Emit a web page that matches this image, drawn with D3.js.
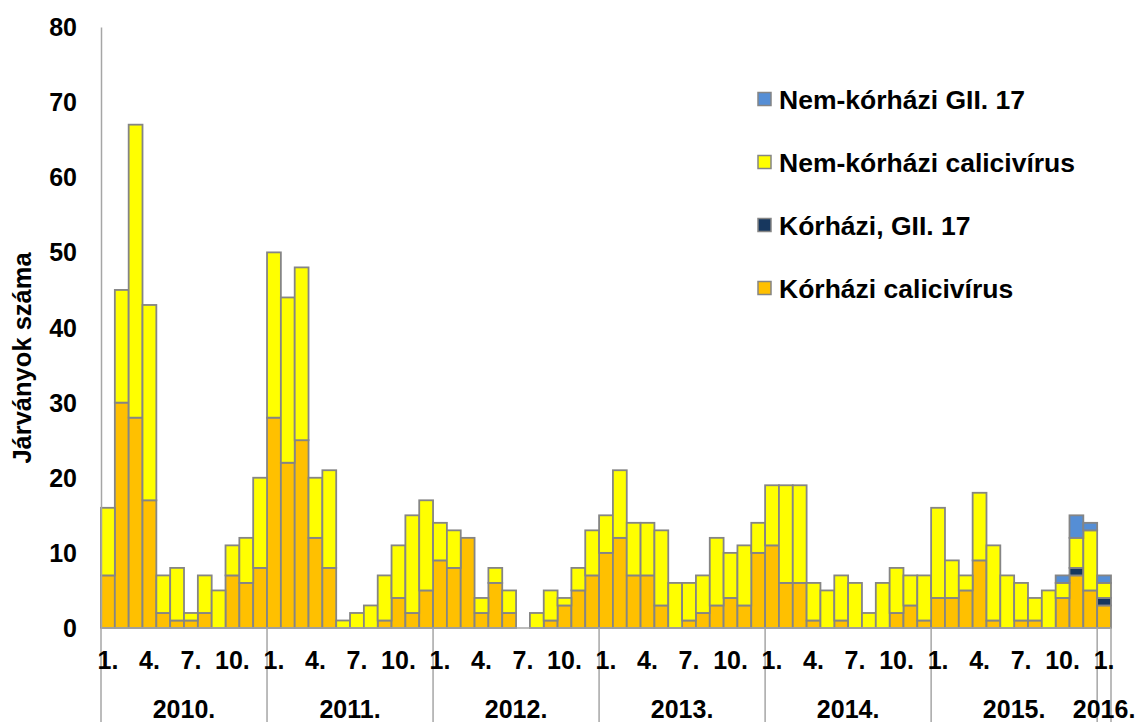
<!DOCTYPE html>
<html>
<head>
<meta charset="utf-8">
<script src="https://cdn.jsdelivr.net/npm/d3@7"></script>
<style>
  html, body { margin: 0; padding: 0; background: #ffffff; }
  svg { display: block; }
  text { font-family: "Liberation Sans", Arial, sans-serif; font-weight: bold; fill: #000; }
</style>
</head>
<body>
<svg id="chart" width="1142" height="722"></svg>
<script>
// ---- data ----
const years = ["2010.", "2011.", "2012.", "2013.", "2014.", "2015.", "2016."];
const monthsPerYear = [12, 12, 12, 12, 12, 12, 1];
const monthTickLabels = ["1.", "4.", "7.", "10."];
const seriesNames = ["Kórházi calicivírus", "Kórházi, GII. 17", "Nem-kórházi calicivírus", "Nem-kórházi GII. 17"];

const korhaziCalici = [
  7,30,28,17,2,1,1,2,0,7,6,8,
  28,22,25,12,8,0,0,0,1,4,2,5,
  9,8,12,2,6,2,0,0,1,3,5,7,
  10,12,7,7,3,0,1,2,3,4,3,10,
  11,6,6,1,0,1,0,0,0,2,3,1,
  4,4,5,9,1,0,1,1,0,4,7,5,
  3
];
const korhaziGII17 = [
  0,0,0,0,0,0,0,0,0,0,0,0,
  0,0,0,0,0,0,0,0,0,0,0,0,
  0,0,0,0,0,0,0,0,0,0,0,0,
  0,0,0,0,0,0,0,0,0,0,0,0,
  0,0,0,0,0,0,0,0,0,0,0,0,
  0,0,0,0,0,0,0,0,0,0,1,0,
  1
];
const nemKorhaziCalici = [
  9,15,39,26,5,7,1,5,5,4,6,12,
  22,22,23,8,13,1,2,3,6,7,13,12,
  5,5,0,2,2,3,0,2,4,1,3,6,
  5,9,7,7,10,6,5,5,9,6,8,4,
  8,13,13,5,5,6,6,2,6,6,4,6,
  12,5,2,9,10,7,5,3,5,2,4,8,
  2
];
const nemKorhaziGII17 = [
  0,0,0,0,0,0,0,0,0,0,0,0,
  0,0,0,0,0,0,0,0,0,0,0,0,
  0,0,0,0,0,0,0,0,0,0,0,0,
  0,0,0,0,0,0,0,0,0,0,0,0,
  0,0,0,0,0,0,0,0,0,0,0,0,
  0,0,0,0,0,0,0,0,0,1,3,1,
  1
];
const yTicks = [0, 10, 20, 30, 40, 50, 60, 70, 80];
const yTitle = "Járványok száma";

// ---- build categories ----
const months = [];
years.forEach((yr, yi) => {
  for (let m = 1; m <= monthsPerYear[yi]; m++) months.push({ key: yr + m, year: yr, month: m });
});
const table = months.map((d, i) => ({
  key: d.key, year: d.year, month: d.month,
  s0: korhaziCalici[i], s1: korhaziGII17[i], s2: nemKorhaziCalici[i], s3: nemKorhaziGII17[i]
}));

const colors = ["#FFC000", "#17375E", "#FFFF00", "#558ED5"];
const strokeCol = "#858585";

const svg = d3.select("#chart");
const plotL = 101, plotR = 1111, plotT = 27, plotB = 628;

const x = d3.scaleBand().domain(table.map(d => d.key)).range([plotL, plotR]).padding(0);
const y = d3.scaleLinear().domain([0, 80]).range([plotB, plotT]);

const stack = d3.stack().keys(["s0", "s1", "s2", "s3"]);
const layers = stack(table);

// bars
svg.append("g").selectAll("g").data(layers).join("g")
  .attr("fill", (d, i) => colors[i])
  .selectAll("rect").data(d => d.filter(s => s[1] - s[0] > 0)).join("rect")
  .attr("x", d => x(d.data.key))
  .attr("width", x.bandwidth())
  .attr("y", d => y(d[1]))
  .attr("height", d => y(d[0]) - y(d[1]))
  .attr("stroke", strokeCol)
  .attr("stroke-width", 1.8);

// y axis
const yAxis = d3.axisLeft(y).tickValues(yTicks).tickSize(0).tickPadding(24).tickFormat(d3.format("d"));
const gy = svg.append("g").attr("transform", `translate(${plotL},0)`).call(yAxis);
gy.select(".domain").attr("stroke", "#A6A6A6").attr("stroke-width", 1.5);
gy.selectAll("text").style("font-size", "25px").attr("dy", "0.34em");

// x baseline
svg.append("line").attr("x1", plotL).attr("x2", plotR).attr("y1", plotB).attr("y2", plotB)
  .attr("stroke", "#A6A6A6").attr("stroke-width", 1.5);

// year separators
const yearStarts = [];
let acc = 0;
years.forEach((yr, yi) => { yearStarts.push({ year: yr, start: acc, n: monthsPerYear[yi] }); acc += monthsPerYear[yi]; });
const sepX = yearStarts.map(d => x(table[d.start].key)).concat([plotR]);
svg.append("g").selectAll("line").data(sepX).join("line")
  .attr("x1", d => d).attr("x2", d => d).attr("y1", plotB).attr("y2", 722)
  .attr("stroke", "#A6A6A6").attr("stroke-width", 1.5);

// month labels
const monthNumLabels = { 1: "1.", 4: "4.", 7: "7.", 10: "10." };
svg.append("g").selectAll("text")
  .data(table.filter(d => monthTickLabels.includes(monthNumLabels[d.month])))
  .join("text")
  .attr("x", d => x(d.key) + x.bandwidth() / 2)
  .attr("y", 669)
  .attr("text-anchor", "middle")
  .style("font-size", "25px")
  .text(d => monthNumLabels[d.month]);

// year labels
svg.append("g").selectAll("text").data(yearStarts).join("text")
  .attr("x", d => (x(table[d.start].key) + x(table[d.start + d.n - 1].key) + x.bandwidth()) / 2)
  .attr("y", 718)
  .attr("text-anchor", "middle")
  .style("font-size", "25px")
  .text(d => d.year);

// y title
svg.append("text")
  .attr("transform", `translate(31,358) rotate(-90)`)
  .attr("text-anchor", "middle")
  .style("font-size", "25.5px")
  .text(yTitle);

// legend (top to bottom: reversed series order)
const legendOrder = [3, 2, 1, 0];
const lg = svg.append("g").selectAll("g").data(legendOrder).join("g")
  .attr("transform", (d, i) => `translate(758,${99 + i * 63})`);
lg.append("rect").attr("x", 0).attr("y", -6.5).attr("width", 13).attr("height", 13)
  .attr("fill", d => colors[d]).attr("stroke", strokeCol).attr("stroke-width", 1.5);
lg.append("text").attr("x", 21).attr("y", 0).attr("dy", "0.36em")
  .style("font-size", "26.5px").text(d => seriesNames[d]);
</script>
</body>
</html>
